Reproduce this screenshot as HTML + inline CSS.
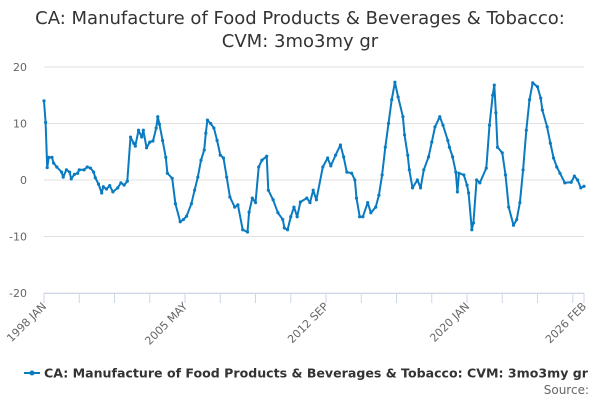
<!DOCTYPE html>
<html><head><meta charset="utf-8"><style>
body{margin:0;background:#fff;font-family:"DejaVu Sans",sans-serif;}
svg text{font-family:"DejaVu Sans",sans-serif;}
</style></head><body>
<svg id="chart" width="600" height="400" viewBox="0 0 600 400">
<text x="300" y="24" text-anchor="middle" font-size="18" fill="#333">CA: Manufacture of Food Products &amp; Beverages &amp; Tobacco:</text>
<text x="300" y="47" text-anchor="middle" font-size="18" fill="#333">CVM: 3mo3my gr</text>
<g id="grid"></g><g id="axes"></g><g id="series"></g>
<g>
<line x1="24" y1="373" x2="40" y2="373" stroke="#0a7bc1" stroke-width="2"/>
<circle cx="32" cy="373" r="2.5" fill="#0a7bc1"/>
<text x="44" y="377.5" font-size="12.5" font-weight="bold" fill="#333" textLength="544" lengthAdjust="spacingAndGlyphs">CA: Manufacture of Food Products &amp; Beverages &amp; Tobacco: CVM: 3mo3my gr</text>
</g>
<text x="589" y="394" text-anchor="end" font-size="12" fill="#666">Source:</text>
</svg>
<script>
const months=[0,1,2,3,5,6,8,11,12,14,16,17,19,21,22,25,27,29,31,32,34,36,37,39,41,43,46,48,50,52,54,56,57,59,61,62,64,66,68,70,71,72,74,76,77,80,82,85,87,89,92,94,96,98,100,101,102,104,106,108,110,112,114,116,119,121,124,127,128,130,132,134,136,139,140,143,146,149,150,152,154,156,158,160,164,166,168,170,174,177,179,182,185,187,189,192,194,195,197,199,202,204,207,209,211,213,215,217,219,221,224,225,227,228,230,233,235,237,240,242,244,247,249,252,253,255,257,258,259,262,264,265,267,268,270,272,276,278,280,281,282,283,286,288,290,293,295,297,299,301,303,305,308,310,311,314,316,318,320,322,325,329,331,333,335,337];
const values=[14,10.2,2.2,4,4,3,2.3,1.4,0.5,1.8,1.4,0.2,1,1.2,1.8,1.8,2.3,2.1,1.4,0.4,-0.7,-2.3,-1.2,-1.6,-1,-2.1,-1.4,-0.5,-0.9,-0.2,7.6,6.5,6,8.8,7.6,8.8,5.7,6.7,6.9,9.2,11.2,9.9,7,4,1.2,0.3,-4.2,-7.4,-7,-6.4,-4.2,-1.8,0.5,3.5,5.3,8.3,10.6,10,9.2,7,4.4,3.9,0.5,-3,-4.8,-4.4,-8.8,-9.2,-5.7,-3.2,-4,2.3,3.5,4.2,-1.8,-3.5,-5.8,-7,-8.5,-8.8,-6.5,-4.8,-6.5,-3.9,-3.2,-4,-1.8,-3.5,2.3,3.9,2.5,4.4,6.2,4.1,1.4,1.2,0,-3.2,-6.5,-6.5,-4,-5.8,-4.8,-2.7,0.9,5.8,10,14.2,17.3,14.7,11.2,8,4.4,1.8,-1.4,0,-1.4,1.8,4.1,6.7,9.4,11.2,9.7,7,5.8,4.1,1.4,-2.1,1.2,0.9,-0.9,-2.3,-8.8,-7.6,0,-0.5,2.1,9.7,15,16.8,11.9,5.8,4.8,0.9,-4.8,-8,-7,-4,1.8,8.8,14.2,17.2,16.5,14.5,12.4,9.4,6.5,3.9,2.3,1.2,-0.5,-0.4,0.7,0,-1.4,-1.1];
const yTicks=[20,10,0,-10,-20];
const xLabels=["1998 JAN","2005 MAY","2012 SEP","2020 JAN","2026 FEB"];
const xLabelMonths=[0,88,176,264,337];
const NS="http://www.w3.org/2000/svg";
const x0=44,x1=584,maxM=337;
const X=m=>x0+(x1-x0)*m/maxM;
const Y=v=>180-v*5.65;
function mk(t,a,p){const e=document.createElementNS(NS,t);for(const k in a)e.setAttribute(k,a[k]);p.appendChild(e);return e;}
const grid=document.getElementById('grid'),axes=document.getElementById('axes'),ser=document.getElementById('series');
yTicks.forEach(v=>{
 const l=mk('line',{x1:x0,x2:x1,y1:Y(v),y2:Y(v),stroke:'#e0e0e0','stroke-width':1},grid);
 
 
 const t=mk('text',{x:27,y:Y(v)+4,'text-anchor':'end','font-size':11,fill:'#666'},axes);
 t.textContent=v;
 
 
});
const ax=mk('line',{x1:x0,x2:x1,y1:293.5,y2:293.5,stroke:'#ccd6eb','stroke-width':1},axes);


for(let m=0;m<=maxM;m+=22){
 const tk=mk('line',{x1:X(m),x2:X(m),y1:293,y2:303,stroke:'#ccd6eb'},axes);
 
 
}
const tkEnd=mk('line',{x1:x1,x2:x1,y1:293,y2:303,stroke:'#ccd6eb'},axes);


xLabels.forEach((s,i)=>{
 const x=X(xLabelMonths[i]);
 const t=mk('text',{x:x+3,y:307,'text-anchor':'end','font-size':11,fill:'#666',transform:`rotate(-45 ${x+3} 307)`},axes);
 t.textContent=s;
 
 
});
const d=months.map((m,i)=>(i?'L':'M')+X(m).toFixed(1)+' '+Y(values[i]).toFixed(1)).join(' ');
const p=mk('path',{d:d,fill:'none',stroke:'#0a7bc1','stroke-width':2,'stroke-linejoin':'round'},ser);


months.forEach((m,i)=>{
 const c=mk('circle',{cx:X(m),cy:Y(values[i]),r:1.6,fill:'#0a7bc1'},ser);
 
 
});
</script>
</body></html>
